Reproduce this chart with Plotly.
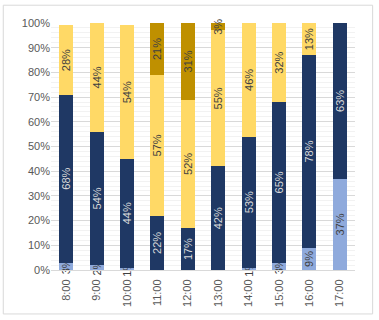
import plotly.graph_objects as go

categories = ["8:00", "9:00", "10:00", "11:00", "12:00", "13:00", "14:00", "15:00", "16:00", "17:00"]
s_lightblue = [3, 2, 1, 0, 0, 0, 1, 3, 9, 37]
s_navy = [68, 54, 44, 22, 17, 42, 53, 65, 78, 63]
s_yellow = [28, 44, 54, 57, 52, 55, 46, 32, 13, 0]
s_gold = [0, 0, 0, 21, 31, 3, 0, 0, 0, 0]

series = [
    ("s1", s_lightblue, "#8FAADC", "#404040"),
    ("s2", s_navy, "#1F3864", "#D9D9D9"),
    ("s3", s_yellow, "#FFD966", "#404040"),
    ("s4", s_gold, "#BF9000", "#404040"),
]

fig = go.Figure()
for name, vals, color, tcolor in series:
    fig.add_trace(go.Bar(
        x=categories, y=vals, name=name,
        marker=dict(color=color, line=dict(width=0)),
        text=[f"{v}%" if v > 0 else "" for v in vals],
        textposition="inside",
        insidetextanchor="middle",
        textangle=-90,
        constraintext="none",
        insidetextfont=dict(color=tcolor, size=11, family="Liberation Sans"),
        cliponaxis=False,
        hoverinfo="skip",
    ))

fig.update_layout(
    barmode="stack",
    bargap=0.54,
    width=379, height=320,
    margin=dict(l=51, r=24, t=23, b=50),
    paper_bgcolor="white", plot_bgcolor="white",
    showlegend=False,
    font=dict(family="Liberation Sans", size=11, color="#595959"),
    xaxis=dict(
        tickangle=-90, showgrid=False, showline=True, linecolor="#D9D9D9",
        ticks="", ticklabelstandoff=4, tickfont=dict(size=11, color="#595959"),
    ),
    yaxis=dict(
        range=[0, 100], dtick=10, ticksuffix="%",
        showgrid=True, gridcolor="#D9D9D9", gridwidth=1,
        minor=dict(dtick=2, showgrid=True, gridcolor="#F2F2F2", gridwidth=1),
        zeroline=False, ticks="", tickfont=dict(size=11, color="#595959"),
    ),
    shapes=[dict(
        type="rect", xref="paper", yref="paper",
        x0=-0.157, x1=1.058, y0=-0.178, y1=1.072,
        line=dict(color="#D9D9D9", width=1), fillcolor="rgba(0,0,0,0)",
        layer="below",
    )],
)

fig.write_html(
    "out.html",
    config={"displayModeBar": False, "staticPlot": True},
    post_script="document.body.style.margin='0';",
)
